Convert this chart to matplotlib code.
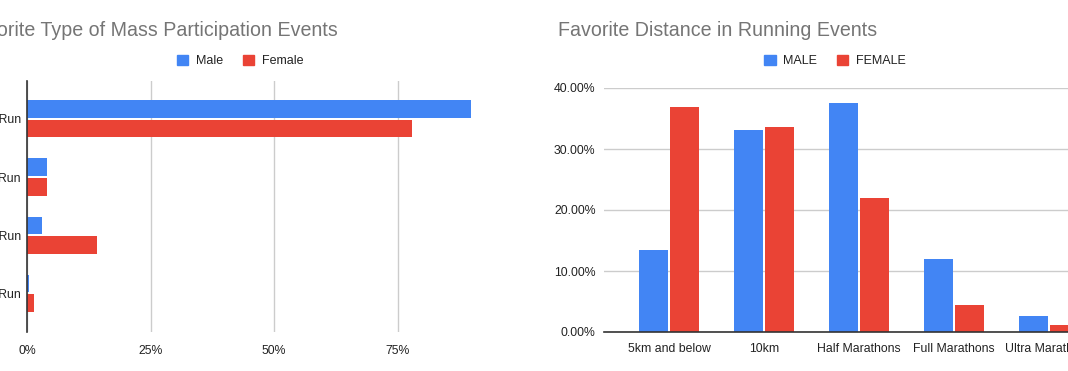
import matplotlib
matplotlib.use("Agg")
import matplotlib.pyplot as plt
import numpy as np
from matplotlib.patches import Patch
from matplotlib.ticker import FuncFormatter

plt.rcParams['font.family'] = ['Liberation Sans', 'DejaVu Sans']

BLUE = '#4285F4'
RED = '#EA4335'
GRID = '#cccccc'
TITLE_GREY = '#757575'
TEXT = '#222222'

# left chart data
event_types = ['Road Run', 'Trail Run', 'Fun Run', 'Virtual Run']
event_male = [0.899, 0.040, 0.030, 0.005]
event_female = [0.779, 0.040, 0.141, 0.014]

# right chart data
distances = ['5km and below', '10km', 'Half Marathons', 'Full Marathons', 'Ultra Marathons']
dist_male = [0.134, 0.331, 0.376, 0.119, 0.027]
dist_female = [0.369, 0.336, 0.219, 0.044, 0.011]

W, H = 1068, 371
fig = plt.figure(figsize=(W / 100, H / 100), dpi=100)


def fx(px):
    return px / W


def fy(py):
    return 1 - py / H


# ---- left: horizontal bars ----
ax1 = fig.add_axes([fx(27), fy(332), fx(471.6 - 27), (332 - 81) / H])
y = np.arange(len(event_types))
bh = 0.31
off = 0.164
ax1.barh(y - off, event_male, height=bh, color=BLUE, zorder=3)
ax1.barh(y + off, event_female, height=bh, color=RED, zorder=3)
ax1.set_ylim(3.672, -0.655)
ax1.set_xlim(0, 0.9)
ax1.set_yticks(y)
ax1.set_yticklabels(event_types)
ax1.set_xticks([0, 0.25, 0.5, 0.75])
ax1.xaxis.set_major_formatter(FuncFormatter(lambda v, p: f"{v * 100:.0f}%"))
ax1.grid(axis='x', color=GRID, linewidth=1, zorder=0)
for s in ['top', 'right', 'bottom']:
    ax1.spines[s].set_visible(False)
ax1.spines['left'].set_color('#333333')
ax1.spines['left'].set_linewidth(1.2)
ax1.spines['left'].set_zorder(4)
ax1.tick_params(axis='both', length=0, labelsize=8.8, labelcolor=TEXT)
ax1.tick_params(axis='y', pad=4.5)
ax1.tick_params(axis='x', pad=9)

fig.text(fx(338), fy(31), 'Favorite Type of Mass Participation Events',
         ha='right', va='center', fontsize=14.1, color=TITLE_GREY)
fig.legend(handles=[Patch(color=BLUE, label='Male'), Patch(color=RED, label='Female')],
           loc='center', bbox_to_anchor=(fx(240), fy(61)), ncol=2, frameon=False,
           fontsize=9, handlelength=0.9, handleheight=0.9, handletextpad=0.6,
           columnspacing=1.6, labelcolor=TEXT)

# ---- right: vertical bars ----
ax2 = fig.add_axes([fx(604), fy(332), 1 - fx(604), (332 - 88) / H])
x = np.arange(len(distances))
bw = 0.31
xoff = 0.163
ax2.bar(x - xoff, dist_male, width=bw, color=BLUE, zorder=3)
ax2.bar(x + xoff, dist_female, width=bw, color=RED, zorder=3)
ax2.set_xlim(-0.684, 4.2)
ax2.set_ylim(0, 0.40)
ax2.set_xticks(x)
ax2.set_xticklabels(distances)
ax2.set_yticks([0, 0.1, 0.2, 0.3, 0.4])
ax2.yaxis.set_major_formatter(FuncFormatter(lambda v, p: f"{v * 100:.2f}%"))
ax2.grid(axis='y', color=GRID, linewidth=1, zorder=0)
for s in ['top', 'right', 'left']:
    ax2.spines[s].set_visible(False)
ax2.spines['bottom'].set_color('#333333')
ax2.spines['bottom'].set_linewidth(1.2)
ax2.spines['bottom'].set_zorder(4)
ax2.tick_params(axis='both', length=0, labelsize=8.8, labelcolor=TEXT)
ax2.tick_params(axis='y', pad=6)
ax2.tick_params(axis='x', pad=8)

fig.text(fx(558), fy(31), 'Favorite Distance in Running Events',
         ha='left', va='center', fontsize=14.1, color=TITLE_GREY)
fig.legend(handles=[Patch(color=BLUE, label='MALE'), Patch(color=RED, label='FEMALE')],
           loc='center', bbox_to_anchor=(fx(835), fy(61)), ncol=2, frameon=False,
           fontsize=9, handlelength=0.9, handleheight=0.9, handletextpad=0.6,
           columnspacing=1.6, labelcolor=TEXT)

fig.savefig('out.png', dpi=100)
